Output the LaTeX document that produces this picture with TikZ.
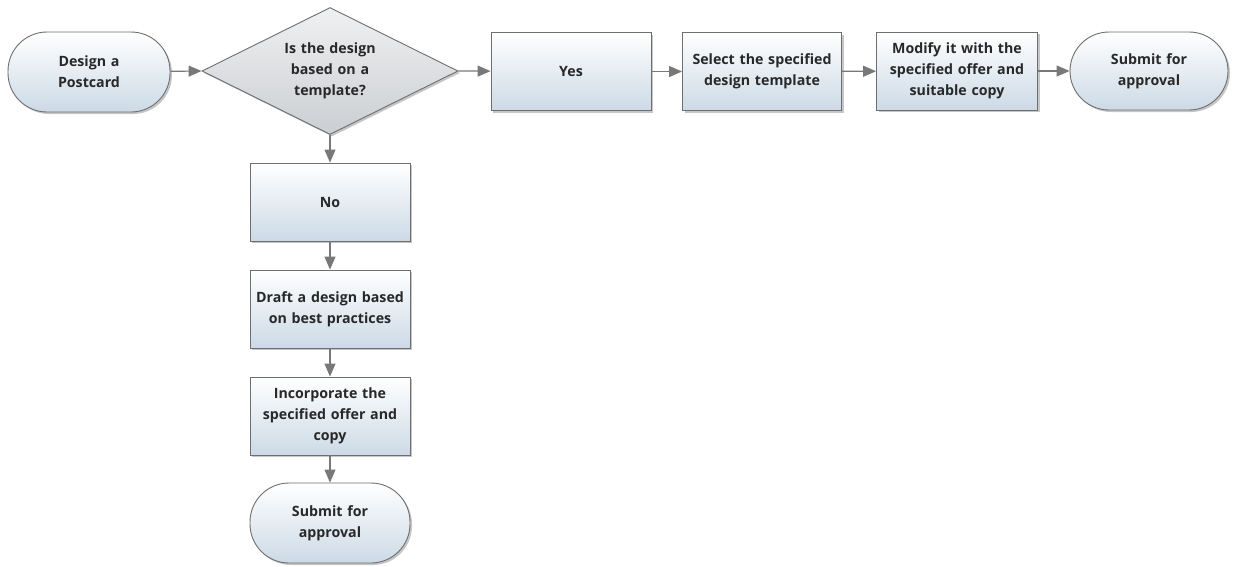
\documentclass[tikz,border=0pt]{standalone}
\usepackage{fontspec}
\setmainfont{Open Sans}
\usetikzlibrary{shapes.geometric,shadows,arrows.meta}
\definecolor{boxbot}{RGB}{204,218,230}
\definecolor{diabot}{RGB}{203,206,210}
\definecolor{edgec}{RGB}{110,110,110}
\definecolor{arrc}{RGB}{120,120,120}
\definecolor{txt}{RGB}{40,40,40}
\tikzset{
  base/.style={draw=edgec, line width=0.9pt, top color=white, bottom color=boxbot,
    drop shadow={opacity=0.45, shadow xshift=2pt, shadow yshift=-2pt},
    text=txt, font=\fontsize{14.2}{20.8}\selectfont\bfseries, align=center, inner sep=0pt},
  procbox/.style={base, rectangle, minimum width=160pt, minimum height=78pt, text width=156pt},
  termbox/.style={base, rectangle, rounded corners=39pt, minimum width=160pt, minimum height=80pt, text width=140pt},
  decbox/.style={base, diamond, aspect=2, top color=white!70!diabot, bottom color=diabot, minimum width=256pt, minimum height=127pt, text width=100pt},
  conn/.style={draw=arrc, line width=1.2pt, -{Triangle[length=13pt,width=11pt]}, color=arrc}
}
\begin{document}
\begin{tikzpicture}[x=1pt,y=-1pt]
\useasboundingbox (0,0) rectangle (1233,566);
\node[termbox, minimum width=162pt] (start) at (89,72) {Design a\\Postcard};
\node[decbox] (dec) at (330,71) {Is the design\\based on a\\template?};
\node[procbox] (yes) at (571,71.5) {Yes};
\node[procbox, minimum width=159pt] (sel) at (762,71.5) {Select the specified\\design template};
\node[procbox, minimum width=161pt] (mod) at (957,71) {Modify it with the\\specified offer and\\suitable copy};
\node[termbox, minimum width=158pt, minimum height=78pt] (sub1) at (1149,71) {Submit for\\approval};
\node[procbox] (no) at (330,202) {No};
\node[procbox] (draft) at (330,309) {Draft a design based\\on best practices};
\node[procbox] (inc) at (330,416) {Incorporate the\\specified offer and\\copy};
\node[termbox] (sub2) at (330,523) {Submit for\\approval};
\draw[conn] (start) -- (dec.west);
\draw[conn] (dec.east) -- (yes);
\draw[conn] (yes) -- (sel);
\draw[conn] (sel) -- (mod);
\draw[conn] (mod) -- (sub1);
\draw[conn] (dec.south) -- (no);
\draw[conn] (no) -- (draft);
\draw[conn] (draft) -- (inc);
\draw[conn] (inc) -- (sub2);
\end{tikzpicture}
\end{document}
